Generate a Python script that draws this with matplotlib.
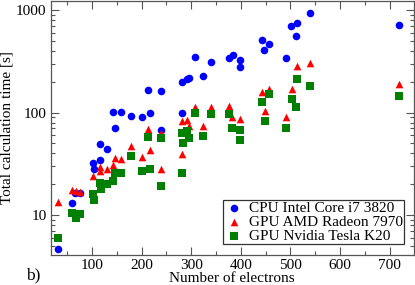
import matplotlib
matplotlib.use("Agg")
import matplotlib.pyplot as plt
from matplotlib.ticker import LogLocator, NullFormatter, MultipleLocator, FixedLocator, FixedFormatter

plt.rcParams['font.family'] = ['Liberation Serif', 'DejaVu Serif']
plt.rcParams['mathtext.fontset'] = 'stix'

# CPU Intel Core i7 3820
cpu_x = [32, 59, 66, 76, 102, 105, 117, 117, 130, 143, 159, 147, 179, 201, 217, 213,
         240, 240, 281, 281, 292, 296, 324, 308, 340, 376, 384, 399, 399, 443, 457,
         447, 491, 501, 513, 511, 539, 718]
cpu_y = [4.7, 13.2, 16.6, 16.3, 32.3, 28.5, 34.3, 49.1, 44.6, 101, 101, 71.4, 92.6,
         90.5, 99, 167, 162, 68.2, 99, 198, 211, 218, 226, 347, 310, 343, 363, 325,
         277, 505, 469, 410, 337, 696, 751, 556, 939, 711]

# GPU AMD Radeon 7970
amd_x = [32, 59, 68, 76, 102, 117, 117, 130, 143, 147, 159, 179, 201, 213, 217, 240,
         240, 281, 292, 296, 281, 308, 324, 340, 376, 383, 399, 443, 457, 448, 491,
         503, 511, 513, 539, 718]
amd_y = [13.5, 17.7, 17.2, 16.9, 24, 29.5, 27, 28.5, 30.7, 36.1, 35.6, 47.3, 36.9,
         68.7, 43.6, 63.5, 28, 82.2, 84.1, 73.5, 39.2, 114, 73.8, 112, 115, 90, 87,
         158, 171, 103, 90.5, 168, 219, 284, 303, 191]

# GPU Nvidia Tesla K20
nv_x = [32, 59, 68, 76, 102, 105, 117, 118, 130, 143, 147, 159, 179, 201, 213, 217,
        240, 240, 281, 292, 283, 296, 281, 307, 324, 340, 376, 383, 399, 399, 443,
        457, 448, 491, 503, 511, 513, 539, 718]
nv_y = [6.07, 10.6, 9.5, 10.2, 16, 14, 20.6, 18.2, 20, 21.6, 25.8, 25.5, 37.8, 27,
        57.8, 27.9, 57, 19.3, 63.2, 65.7, 50.5, 56.2, 25.5, 99, 58.7, 97.7, 97.7,
        70.7, 68.2, 54.5, 127, 150, 83.5, 71.4, 136, 112, 211, 180, 145]

labels = ["CPU Intel Core i7 3820", "GPU AMD Radeon 7970", "GPU Nvidia Tesla K20"]
x_ticks = [100, 200, 300, 400, 500, 600, 700]
y_ticks = [10, 100, 1000]
y_ticklabels = ["10", "100", "1000"]

fig = plt.figure(figsize=(4.15, 2.85), dpi=100)
ax = fig.add_axes([50.7/415, 1-255/285, (413.5-50.7)/415, (255-1)/285])

ax.scatter(cpu_x, cpu_y, s=30, marker='o', color='#0000ff', linewidths=0, label=labels[0], zorder=3)
ax.scatter(amd_x, amd_y, s=30, marker='^', color='#ff0000', linewidths=0, label=labels[1], zorder=4)
ax.scatter(nv_x, nv_y, s=28, marker='s', color='#008000', linewidths=0, label=labels[2], zorder=5)

ax.set_yscale('log')
ax.set_xlim(17, 748)
ax.set_ylim(4.1, 1220)

ax.xaxis.set_major_locator(FixedLocator(x_ticks))
ax.xaxis.set_minor_locator(MultipleLocator(50))
ax.yaxis.set_major_locator(FixedLocator(y_ticks))
ax.yaxis.set_major_formatter(FixedFormatter(y_ticklabels))
ax.yaxis.set_minor_locator(LogLocator(base=10, subs=range(2, 10)))
ax.yaxis.set_minor_formatter(NullFormatter())

ax.tick_params(which='both', direction='in', top=True, right=True, color='#555555', labelsize=11)
ax.tick_params(which='major', length=5.5, width=0.8, pad=3)
ax.tick_params(which='minor', length=2.8, width=0.8)
for sp in ax.spines.values():
    sp.set_color('#555555')
    sp.set_linewidth(0.9)

ax.set_xlabel("Number of electrons", fontsize=11, labelpad=0)
ax.set_ylabel("Total calculation time [s]", fontsize=11, labelpad=2)

leg = ax.legend(loc='lower right', bbox_to_anchor=(0.975, 0.043), borderaxespad=0,
                fontsize=11, labelspacing=0.0, handletextpad=0.4, handlelength=1.2,
                borderpad=0.1, fancybox=False, framealpha=1, edgecolor='#333333',
                scatterpoints=1)
leg.get_frame().set_linewidth(0.9)

fig.text(26/415, 1-279/285, "b)", fontsize=12.5, va='baseline', ha='left')

fig.savefig("out.png", dpi=100)
